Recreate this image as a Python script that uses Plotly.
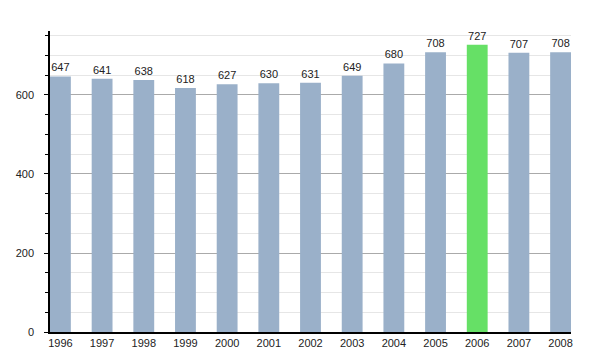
import plotly.graph_objects as go

years = ["1996", "1997", "1998", "1999", "2000", "2001", "2002", "2003", "2004", "2005", "2006", "2007", "2008"]
values = [647, 641, 638, 618, 627, 630, 631, 649, 680, 708, 727, 707, 708]
highlight = "2006"

colors = ["#66e066" if y == highlight else "#9ab0c9" for y in years]

fig = go.Figure(go.Bar(
    x=years, y=values, marker=dict(color=colors, line=dict(width=0)),
    width=0.5, text=[str(v) for v in values], textposition="outside",
    textfont=dict(size=11, color="#222"), cliponaxis=False,
))
fig.update_layout(
    width=600, height=350, margin=dict(l=50, r=29, t=31, b=18),
    paper_bgcolor="white", plot_bgcolor="white", showlegend=False,
    font=dict(family="Liberation Sans, Arial, sans-serif", size=11, color="#222"),
    xaxis=dict(type="category", range=[-0.25, 12.25], showline=True, linecolor="black",
               linewidth=1.5, ticks="", showgrid=False, tickfont=dict(size=11),
               automargin=False),
    yaxis=dict(range=[0, 762], tickvals=[0, 200, 400, 600], showline=True, linecolor="black",
               linewidth=1.5, ticks="outside", ticklen=4, tickcolor="black",
               showgrid=True, gridcolor="#aaaaaa", gridwidth=1, zeroline=False,
               automargin=False, ticklabelstandoff=8,
               minor=dict(dtick=50, tick0=0, ticks="outside", ticklen=3, tickcolor="black",
                          showgrid=True, gridcolor="#e6e6e6", gridwidth=1),
               tickfont=dict(size=11)),
)
fig.write_html("out.html")
